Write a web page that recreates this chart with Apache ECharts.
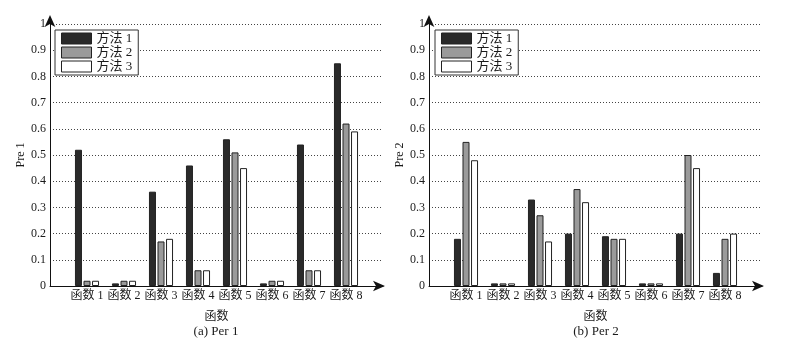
<!DOCTYPE html>
<html>
<head>
<meta charset="utf-8">
<script src="https://cdn.jsdelivr.net/npm/echarts@6/dist/echarts.min.js"></script>
<style>
  html, body { margin: 0; padding: 0; background: #fff; }
  #chart { width: 786px; height: 346px; }
</style>
</head>
<body>
<div id="chart"></div>
<script>
// Function categories along the x axis
const categories = ['函数 1', '函数 2', '函数 3', '函数 4', '函数 5', '函数 6', '函数 7', '函数 8'];
const methodNames = ['方法 1', '方法 2', '方法 3'];

// (a) Per 1 values per method
const per1Method1 = [0.52, 0.01, 0.36, 0.46, 0.56, 0.01, 0.54, 0.85];
const per1Method2 = [0.02, 0.02, 0.17, 0.06, 0.51, 0.02, 0.06, 0.62];
const per1Method3 = [0.02, 0.02, 0.18, 0.06, 0.45, 0.02, 0.06, 0.59];

// (b) Per 2 values per method
const per2Method1 = [0.18, 0.01, 0.33, 0.20, 0.19, 0.01, 0.20, 0.05];
const per2Method2 = [0.55, 0.01, 0.27, 0.37, 0.18, 0.01, 0.50, 0.18];
const per2Method3 = [0.48, 0.01, 0.17, 0.32, 0.18, 0.01, 0.45, 0.20];

const SERIF = '"Liberation Serif", "Times New Roman", "Noto Sans CJK SC", serif';
const TEXT = '#1a1a1a';
const fills = ['#2a2a2a', '#9a9a9a', '#ffffff'];

function xAxisCfg(gridIndex) {
  return {
    type: 'value', gridIndex: gridIndex, min: 0, max: 9, interval: 1,
    name: '函数', nameLocation: 'middle', nameGap: 25,
    nameTextStyle: { fontFamily: SERIF, fontSize: 12, color: TEXT },
    axisLine: { show: true, symbol: ['none', 'arrow'], symbolSize: [8, 12], symbolOffset: [0, 2],
                lineStyle: { color: '#111', width: 1 } },
    axisTick: { show: false },
    splitLine: { show: false },
    axisLabel: {
      margin: 4, fontFamily: SERIF, fontSize: 12, color: TEXT,
      formatter: v => (v >= 1 && v <= categories.length) ? categories[v - 1] : ''
    }
  };
}

function yAxisCfg(gridIndex, name) {
  return {
    type: 'value', gridIndex: gridIndex, min: 0, max: 1, interval: 0.1,
    name: name, nameLocation: 'middle', nameGap: 22, nameRotate: 90,
    nameTextStyle: { fontFamily: SERIF, fontSize: 12, color: TEXT },
    axisLine: { show: true, symbol: ['none', 'arrow'], symbolSize: [8, 12], symbolOffset: [0, 9],
                lineStyle: { color: '#111', width: 1 } },
    axisTick: { show: false },
    axisLabel: { margin: 4, fontFamily: SERIF, fontSize: 12, color: TEXT },
    splitLine: { show: true, lineStyle: { color: '#444', width: 1, type: [1, 2] } }
  };
}

function barSeries(name, values, axisIndex, k) {
  return {
    type: 'bar', name: name, xAxisIndex: axisIndex, yAxisIndex: axisIndex,
    barWidth: 7, barGap: '22%',
    itemStyle: { color: fills[k], borderColor: '#222', borderWidth: 1 },
    emphasis: { disabled: true },
    data: values.map((v, i) => [i + 1, v])
  };
}

function legendCfg(left) {
  return {
    left: left, top: 30, orient: 'vertical',
    backgroundColor: '#fff', borderColor: '#333', borderWidth: 1, borderRadius: 0,
    padding: [2, 6, 2, 6], itemGap: 1, itemWidth: 30, itemHeight: 11, itemTextGap: 4,
    icon: 'rect',
    textStyle: { fontFamily: SERIF, fontSize: 13, color: TEXT },
    data: methodNames.map((n, k) => ({ name: n, itemStyle: { color: fills[k], borderColor: '#222', borderWidth: 1 } }))
  };
}

function caption(text, cx) {
  return {
    type: 'text', x: cx, y: 325,
    style: { text: text, fontFamily: SERIF, fontSize: 13, fill: TEXT, align: 'center', verticalAlign: 'top' }
  };
}

const chart = echarts.init(document.getElementById('chart'), null, { renderer: 'canvas' });
chart.setOption({
  animation: false,
  backgroundColor: '#fff',
  grid: [
    { left: 50, right: 403, top: 24, bottom: 60 },
    { left: 429, right: 24, top: 24, bottom: 60 }
  ],
  xAxis: [xAxisCfg(0), xAxisCfg(1)],
  yAxis: [yAxisCfg(0, 'Pre 1'), yAxisCfg(1, 'Pre 2')],
  legend: [legendCfg(55), legendCfg(435)],
  series: [
    barSeries(methodNames[0], per1Method1, 0, 0),
    barSeries(methodNames[1], per1Method2, 0, 1),
    barSeries(methodNames[2], per1Method3, 0, 2),
    barSeries(methodNames[0], per2Method1, 1, 0),
    barSeries(methodNames[1], per2Method2, 1, 1),
    barSeries(methodNames[2], per2Method3, 1, 2)
  ],
  graphic: [caption('(a) Per 1', 216), caption('(b) Per 2', 596)]
});
</script>
</body>
</html>
